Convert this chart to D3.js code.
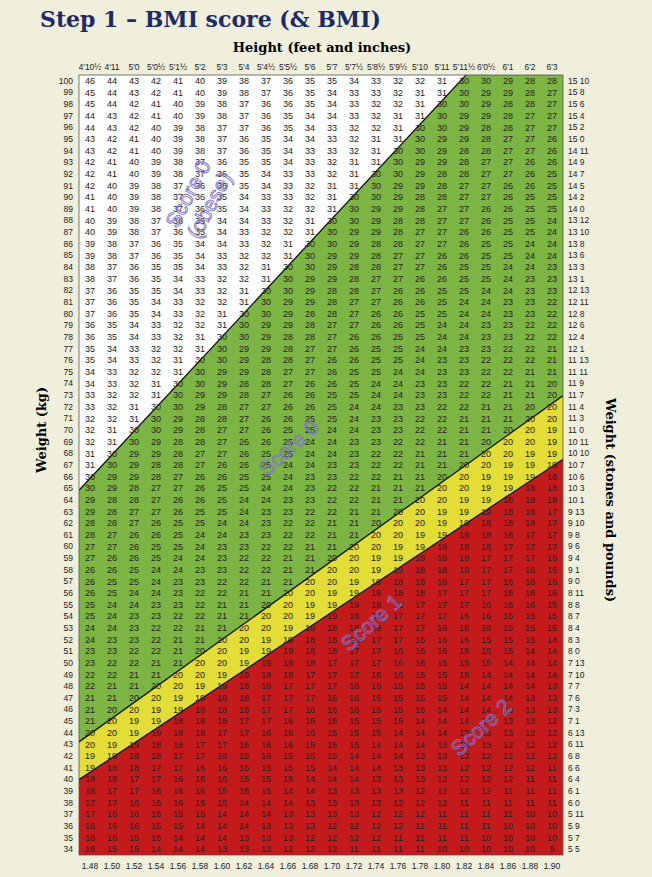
<!DOCTYPE html>
<html>
<head>
<meta charset="utf-8">
<script src="https://cdn.jsdelivr.net/npm/d3@7"></script>
<style>
  body { margin: 0; background: #f0efdc; }
  text { font-family: "Liberation Sans", Arial, sans-serif; }
  .serif { font-family: "DejaVu Serif", "Liberation Serif", serif; font-weight: bold; }
</style>
</head>
<body>
<div id="chart"></div>
<script>
// weights down the side (kg), heights along the bottom (m)
const weights = d3.range(100, 33, -1)
const heights = [1.48, 1.50, 1.52, 1.54, 1.56, 1.58, 1.60, 1.62, 1.64, 1.66, 1.68,
  1.70, 1.72, 1.74, 1.76, 1.78, 1.80, 1.82, 1.84, 1.86, 1.88, 1.90]
const feetLabels = ["4'10½", "4'11", "5'0", "5'0½", "5'1½", "5'2", "5'3", "5'4", "5'4½", "5'5½", "5'6",
  "5'7", "5'7½", "5'8½", "5'9½", "5'10", "5'11", "5'11½", "6'0½", "6'1", "6'2", "6'3"]
const stoneLabels = ["15 10", "15 8", "15 6", "15 4", "15 2", "15 0", "14 11", "14 9", "14 7", "14 5",
  "14 2", "14 0", "13 12", "13 10", "13 8", "13 6", "13 3", "13 1", "12 13", "12 11", "12 8", "12 6",
  "12 4", "12 1", "11 13", "11 11", "11 9", "11 7", "11 4", "11 3", "11 0", "10 11", "10 10", "10 7",
  "10 6", "10 3", "10 1", "9 13", "9 10", "9 8", "9 6", "9 4", "9 1", "9 0", "8 11", "8 8", "8 7",
  "8 4", "8 3", "8 0", "7 13", "7 10", "7 7", "7 6", "7 3", "7 1", "6 13", "6 11", "6 8", "6 6",
  "6 4", "6 1", "6 0", "5 11", "5 9", "5 7", "5 5"]
// zone boundaries (BMI) and colours
const zones = [
  { top: 100, bottom: 30, color: "#ffffff" },
  { top: 30, bottom: 20, color: "#7db544" },
  { top: 20, bottom: 18.5, color: "#e3dd35" },
  { top: 18.5, bottom: 0, color: "#c41a1c" },
]
const zoneLabels = [
  { lines: ["Score 0", "(obese)"], h: 1.575, w: 90, angle: -62 },
  { lines: ["Score 0"], h: 1.665, w: 68, angle: -42 },
  { lines: ["Score 1"], h: 1.74, w: 53, angle: -42 },
  { lines: ["Score 2"], h: 1.84, w: 44, angle: -42 },
]

const bmi = (w, h) => Math.round(w / (h * h))

const width = 652, height = 877
const table = { left: 79, right: 563, top: 75, bottom: 855 }

const svg = d3.select("#chart").append("svg")
  .attr("width", width).attr("height", height)

const xBand = d3.scaleBand().domain(heights).range([table.left, table.right])
const yBand = d3.scaleBand().domain(weights).range([table.top, table.bottom])
const xLin = d3.scaleLinear().domain([1.48, 1.90])
  .range([xBand(1.48) + xBand.bandwidth() / 2, xBand(1.90) + xBand.bandwidth() / 2])
const yLin = d3.scaleLinear().domain([100, 34])
  .range([yBand(100) + yBand.bandwidth() / 2, yBand(34) + yBand.bandwidth() / 2])

svg.append("text").attr("class", "serif")
  .attr("x", 40).attr("y", 27).attr("font-size", 22).attr("fill", "#1b2a6b")
  .text("Step 1 – BMI score (& BMI)")
svg.append("text").attr("class", "serif")
  .attr("x", 322).attr("y", 52).attr("text-anchor", "middle").attr("font-size", 13)
  .text("Height (feet and inches)")

svg.append("defs").append("clipPath").attr("id", "tbl")
  .append("rect").attr("x", table.left).attr("y", table.top)
  .attr("width", table.right - table.left).attr("height", table.bottom - table.top)

// straight boundary lines between the table edges
const hL = xLin.invert(table.left), hR = xLin.invert(table.right)
const edgeY = b => [yLin(b * hL * hL), yLin(b * hR * hR)]
const zoneG = svg.append("g").attr("clip-path", "url(#tbl)")
zones.forEach(z => {
  const t = edgeY(z.top), b = edgeY(z.bottom)
  zoneG.append("path")
    .attr("d", `M${table.left},${t[0]}L${table.right},${t[1]}L${table.right},${b[1]}L${table.left},${b[0]}Z`)
    .attr("fill", z.color)
})
;[30, 20, 18.5].forEach(b => {
  const e = edgeY(b)
  zoneG.append("line").attr("x1", table.left).attr("y1", e[0])
    .attr("x2", table.right).attr("y2", e[1]).attr("stroke", "#111").attr("stroke-width", 1.3)
})
svg.append("rect").attr("x", table.left).attr("y", table.top)
  .attr("width", table.right - table.left).attr("height", table.bottom - table.top)
  .attr("fill", "none").attr("stroke", "#555").attr("stroke-width", 0.8)

// cell values
const cells = svg.append("g")
weights.forEach(w => {
  heights.forEach(h => {
    cells.append("text")
      .attr("x", xBand(h) + xBand.bandwidth() / 2)
      .attr("y", yBand(w) + yBand.bandwidth() / 2)
      .attr("dy", "0.35em").attr("text-anchor", "middle")
      .attr("font-size", 9).attr("fill", "#222")
      .text(bmi(w, h))
  })
})

// zone labels
zoneLabels.forEach(l => {
  const t = svg.append("text")
    .attr("transform", `translate(${xLin(l.h)},${yLin(l.w)}) rotate(${l.angle})`)
    .attr("text-anchor", "middle").attr("font-size", 21)
    .attr("fill", "none").attr("stroke", "#7d72c9").attr("stroke-width", 0.9)
  l.lines.forEach((s, i) => t.append("tspan").attr("x", 0).attr("dy", i ? 24 : 0).text(s))
})

// axes labels
svg.append("g").selectAll("text").data(heights).join("text")
  .attr("x", d => xBand(d) + xBand.bandwidth() / 2).attr("y", 869)
  .attr("text-anchor", "middle").attr("font-size", 8.5).attr("fill", "#222")
  .text(d => d.toFixed(2))
svg.append("g").selectAll("text").data(feetLabels).join("text")
  .attr("x", (d, i) => xBand(heights[i]) + xBand.bandwidth() / 2).attr("y", 70)
  .attr("text-anchor", "middle").attr("font-size", 8.5).attr("fill", "#222")
  .text(d => d)
svg.append("g").selectAll("text").data(weights).join("text")
  .attr("x", 73).attr("y", d => yBand(d) + yBand.bandwidth() / 2).attr("dy", "0.35em")
  .attr("text-anchor", "end").attr("font-size", 8.5).attr("fill", "#222")
  .text(d => d)
svg.append("g").selectAll("text").data(stoneLabels).join("text")
  .attr("x", 568).attr("y", (d, i) => yBand(weights[i]) + yBand.bandwidth() / 2).attr("dy", "0.35em")
  .attr("font-size", 8.5).attr("fill", "#222")
  .text(d => d)

svg.append("text").attr("class", "serif")
  .attr("transform", "translate(46,430) rotate(-90)").attr("text-anchor", "middle").attr("font-size", 13)
  .text("Weight (kg)")
svg.append("text").attr("class", "serif")
  .attr("transform", "translate(606,500) rotate(90)").attr("text-anchor", "middle").attr("font-size", 13)
  .text("Weight (stones and pounds)")
</script>
</body>
</html>
